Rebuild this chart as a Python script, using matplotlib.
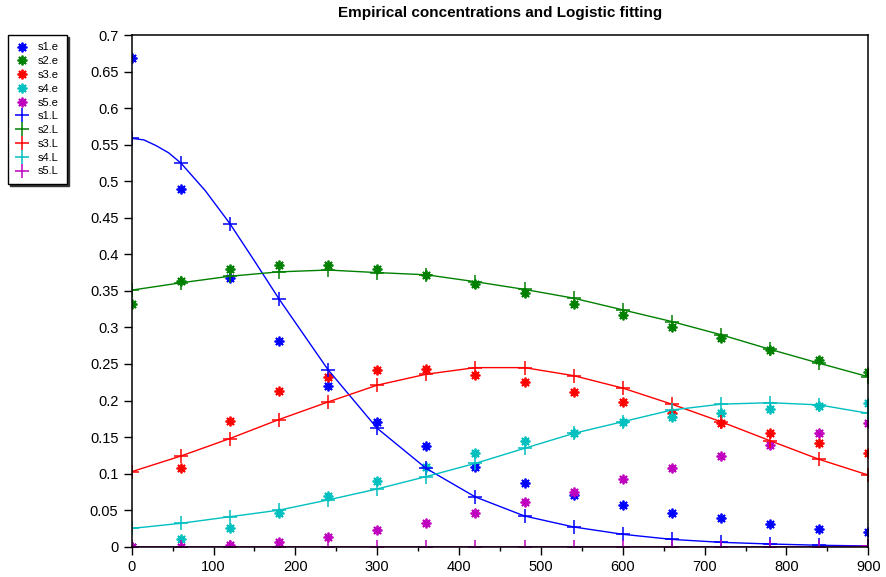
import matplotlib
matplotlib.use("Agg")
import matplotlib.pyplot as plt
import matplotlib.ticker as ticker
from matplotlib.lines import Line2D

plt.rcParams["font.family"] = ["Liberation Sans", "DejaVu Sans"]

# sampling times
t = [0, 60, 120, 180, 240, 300, 360, 420, 480, 540, 600, 660, 720, 780, 840, 900]

# empirical concentrations
s1_e = [0.669, 0.489, 0.367, 0.282, 0.220, 0.171, 0.138, 0.109, 0.0876, 0.0707,
        0.057, 0.0465, 0.0388, 0.031, 0.0246, 0.0205]
s2_e = [0.332, 0.364, 0.3795, 0.385, 0.386, 0.3795, 0.372, 0.359, 0.347, 0.332,
        0.317, 0.301, 0.285, 0.269, 0.255, 0.239]
s3_e = [0.0, 0.107, 0.172, 0.213, 0.2326, 0.2417, 0.2426, 0.235, 0.2257, 0.211,
        0.198, 0.183, 0.169, 0.155, 0.142, 0.1286]
s4_e = [0.0, 0.010, 0.025, 0.0457, 0.0694, 0.090, 0.109, 0.1286, 0.145, 0.156,
        0.170, 0.177, 0.183, 0.189, 0.193, 0.197]
s5_e = [0.0, 0.0, 0.002, 0.007, 0.0137, 0.0228, 0.033, 0.0465, 0.0616, 0.075,
        0.092, 0.108, 0.124, 0.139, 0.155, 0.169]

# logistic fit at the sampling times
s1_L = [0.5587, 0.525, 0.442, 0.339, 0.242, 0.162, 0.107, 0.068, 0.042, 0.027,
        0.017, 0.010, 0.006, 0.0037, 0.002, 0.001]
s2_L = [0.351, 0.361, 0.370, 0.376, 0.3785, 0.375, 0.372, 0.3625, 0.352, 0.340,
        0.324, 0.308, 0.290, 0.270, 0.251, 0.2325]
s3_L = [0.1026, 0.124, 0.148, 0.174, 0.198, 0.221, 0.236, 0.245, 0.245, 0.234,
        0.217, 0.195, 0.171, 0.145, 0.1195, 0.098]
s4_L = [0.025, 0.032, 0.041, 0.050, 0.064, 0.079, 0.096, 0.114, 0.1346, 0.155,
        0.171, 0.187, 0.195, 0.197, 0.194, 0.1825]
s5_L = [0.0, 0.0, 0.0, 0.0, 0.0, 0.0, 0.0, 0.0, 0.0, 0.0,
        0.0, 0.0, 0.0, 0.0, 0.0, 0.0005]

# s1 fit curve has a flat top, so it gets extra samples at the start
s1_curve_t = [0, 15, 30, 45, 60, 90, 120, 150]
s1_curve_v = [0.5587, 0.5565, 0.5486, 0.539, 0.525, 0.487, 0.442, 0.391]

names = ["s1", "s2", "s3", "s4", "s5"]
colors = ["#0000ff", "#008000", "#ff0000", "#00bfbf", "#bf00bf"]
emp = [s1_e, s2_e, s3_e, s4_e, s5_e]
fit = [s1_L, s2_L, s3_L, s4_L, s5_L]

ASTERISK = (8, 2, 0)

fig = plt.figure(figsize=(8.86, 5.77), dpi=100)
ax = fig.add_axes([0.1486, 0.0525, 0.8314, 0.8868])

for y, c in zip(emp, colors):
    ax.plot(t, y, linestyle="none", marker=ASTERISK, markersize=7,
            markeredgewidth=1.3, color=c)

for i, (y, c) in enumerate(zip(fit, colors)):
    if i == 0:
        xs = s1_curve_t + t[3:]
        ys = s1_curve_v + y[3:]
    else:
        xs, ys = t, y
    ax.plot(xs, ys, linestyle="-", linewidth=1.0, color=c)
    ax.plot(t, y, linestyle="none", marker="+", markersize=10,
            markeredgewidth=1.1, color=c)

ax.set_xlim(0, 900)
ax.set_ylim(0, 0.7)
ax.xaxis.set_major_locator(ticker.MultipleLocator(100))
ax.xaxis.set_minor_locator(ticker.MultipleLocator(50))
ax.yaxis.set_major_locator(ticker.MultipleLocator(0.05))
ax.yaxis.set_major_formatter(ticker.FuncFormatter(
    lambda v, p: f"{v:.2f}".rstrip("0").rstrip(".") if v else "0"))
ax.tick_params(which="major", direction="out", length=6, width=1, labelsize=10.5)
ax.tick_params(which="minor", direction="out", length=3, width=1)
ax.tick_params(top=False, right=False)
for s in ax.spines.values():
    s.set_linewidth(1.1)

fig.text(0.5643, 0.977, "Empirical concentrations and Logistic fitting",
         ha="center", va="center", fontsize=11, fontweight="bold")

handles = [Line2D([], [], linestyle="none", marker=ASTERISK, markersize=7,
                  markeredgewidth=1.3, color=c) for c in colors]
handles += [Line2D([], [], linestyle="none", marker="+", markersize=10,
                   markeredgewidth=1.1, color=c) for c in colors]
labels = [f"{n}.e" for n in names] + [f"{n}.L" for n in names]
fig.legend(handles, labels, loc="upper left", bbox_to_anchor=(0.009, 0.94),
           fontsize=8, frameon=True, fancybox=False, edgecolor="black",
           framealpha=1, borderpad=0.7, labelspacing=0.34, handlelength=1.2,
           handletextpad=0.8, borderaxespad=0,
           shadow={"ox": 1.5, "oy": -1.5, "color": "#333333", "alpha": 1})

fig.savefig("out.png", dpi=100)
